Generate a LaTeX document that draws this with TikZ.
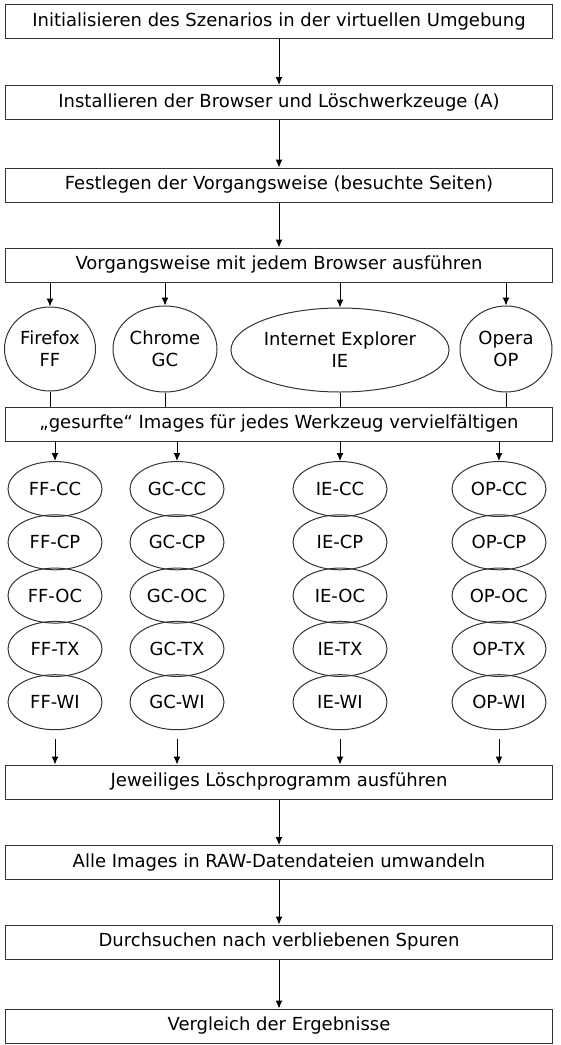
\documentclass[tikz,border=0pt]{standalone}
\usepackage{fontspec}
\setmainfont{DejaVu Sans}
\usetikzlibrary{shapes.geometric,arrows.meta}
\tikzset{
  stepbox/.style={draw=black!80, line width=1pt, rectangle, minimum width=547pt, minimum height=34pt, inner sep=0pt},
  browser/.style={draw=black!80, line width=1pt, ellipse, inner sep=0pt, align=center},
  tool/.style={draw=black!80, line width=1pt, ellipse, inner sep=0pt, minimum width=94pt, minimum height=55pt},
  >={Latex[length=8pt,width=7pt]}
}
\begin{document}
\begin{tikzpicture}[x=1pt, y=-1pt, font=\fontsize{18}{22}\selectfont, line width=1pt]
\useasboundingbox (0,0) rectangle (561,1045);
\node[stepbox] (init) at (279,21.5) {Initialisieren des Szenarios in der virtuellen Umgebung};
\node[stepbox] (install) at (279,102.5) {Installieren der Browser und Löschwerkzeuge (A)};
\node[stepbox] (festlegen) at (279,185) {Festlegen der Vorgangsweise (besuchte Seiten)};
\node[stepbox] (vorgang) at (279,265) {Vorgangsweise mit jedem Browser ausführen};
\node[stepbox] (gesurft) at (279,424) {„gesurfte“ Images für jedes Werkzeug vervielfältigen};
\node[stepbox] (loesch) at (279,782) {Jeweiliges Löschprogramm ausführen};
\node[stepbox] (raw) at (279,862.5) {Alle Images in RAW-Datendateien umwandeln};
\node[stepbox] (suche) at (279,942) {Durchsuchen nach verbliebenen Spuren};
\node[stepbox] (vergleich) at (279,1026) {Vergleich der Ergebnisse};
\draw[->] (init) -- (install);
\draw[->] (install) -- (festlegen);
\draw[->] (festlegen) -- (vorgang);
\draw[->] (loesch) -- (raw);
\draw[->] (raw) -- (suche);
\draw[->] (suche) -- (vergleich);
% browsers
\node[browser, minimum width=91pt, minimum height=84pt] (FF) at (50,349) {Firefox\\FF};
\node[browser, minimum width=104pt, minimum height=86pt] (GC) at (165,349) {Chrome\\GC};
\node[browser, minimum width=218pt, minimum height=84pt] (IE) at (340,350) {Internet Explorer\\IE};
\node[browser, minimum width=92pt, minimum height=86pt] (OP) at (506,349) {Opera\\OP};
\foreach \b in {FF,GC,IE,OP}{
  \draw[->] (\b.north |- vorgang.south) -- (\b.north);
  \draw (\b.south) -- (\b.south |- gesurft.north);
}
% tools
\foreach \b/\x in {FF/55,GC/177,IE/340,OP/499}{
  \foreach \t [count=\i] in {CC,CP,OC,TX,WI}{
    \node[tool] (\b-\t) at (\x,{435.7+53.3*\i}) {\b-\t};
  }
  \draw[->] (\b-CC.north |- gesurft.south) -- (\b-CC.north);
  \draw[->] ([yshift=-9pt]\b-WI.south) -- (\b-WI.south |- loesch.north);
}
\end{tikzpicture}
\end{document}
